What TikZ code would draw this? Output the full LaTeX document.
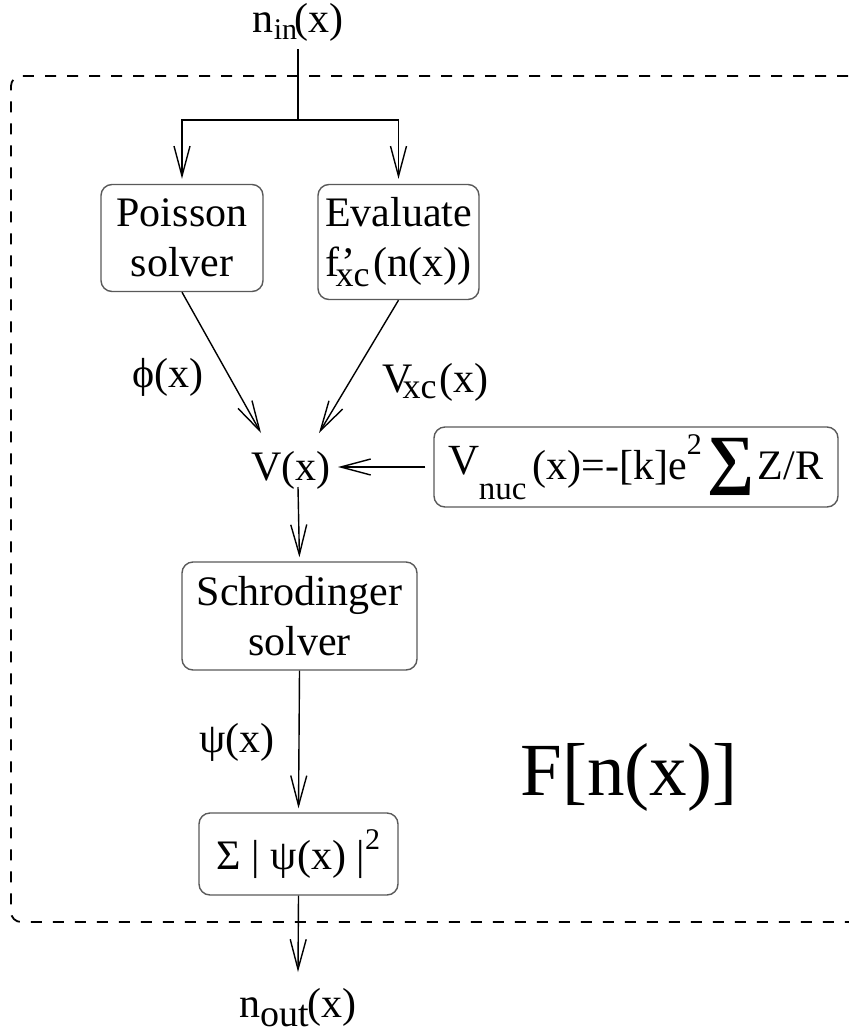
\documentclass[tikz,border=0pt]{standalone}
\usepackage{fontspec}
\setmainfont{Liberation Serif}
\usetikzlibrary{arrows.meta}
% \lowsub{drop}{size}{text}
\newcommand{\lowsub}[3]{\raisebox{-#1pt}{\fontsize{#2}{#2}\selectfont #3}}
\newcommand{\highsup}[3]{\raisebox{#1pt}{\fontsize{#2}{#2}\selectfont #3}}
\tikzset{
  every node/.style={font=\fontsize{42}{50}\selectfont, inner sep=0pt},
  procbox/.style={draw=black!65, line width=1.4pt, rounded corners=11pt, align=center},
  arr/.style={line width=1.4pt, -{Straight Barb[length=30pt,width=16pt,line width=1.4pt]}},
  plain/.style={line width=1.4pt},
  frame/.style={line width=1.8pt, dash pattern=on 11pt off 11pt, rounded corners=10pt}
}
\begin{document}
\begin{tikzpicture}[x=1pt,y=-1pt]
\useasboundingbox (0,0) rectangle (849,1034);
% frame
\draw[frame] (870,76) -- (11,76) -- (11,922) -- (870,922);
% input
\node[anchor=base] (nin) at (298,32) {n\lowsub{7}{30}{in}\kern-3pt(x)};
\coordinate (ninbot) at (298,49);
\coordinate (split) at (298,120);
% boxes
\node[procbox, minimum width=162pt, minimum height=107pt] (pois) at (182,238) {Poisson\\solver};
\node[procbox, minimum width=161pt, minimum height=115pt] (eval) at (398.5,242) {Evaluate\\f’\kern-20pt\lowsub{10}{36}{xc}\kern4pt(n(x))};
\node[anchor=base] (V) at (291,480) {V(x)};
\node[procbox, minimum width=404pt, minimum height=80pt] (vnuc) at (636,467) {\highsup{5}{43}{V}\kern-1pt\lowsub{20}{33}{nuc}\kern6pt(x)=-[k]e\highsup{25}{30}{2}\kern6pt\highsup{-2}{66}{\textbf{∑}}\kern3pt Z/R};
\node[procbox, minimum width=235pt, minimum height=108pt] (schr) at (299.5,616) {Schrodinger\\solver};
\node[procbox, minimum width=199pt, minimum height=82pt] (sig) at (298.5,854) {Σ | ψ(x) |\highsup{20}{30}{2}};
\node[anchor=base] (nout) at (298,1017) {n\lowsub{9}{38}{out}\kern-2pt(x)};
% labels
\node[anchor=base] (phil) at (168,387) {ϕ(x)};
\node[anchor=base west] (vxcl) at (382,392) {V\kern-10pt\lowsub{6}{36}{xc}\kern3pt(x)};
\node[anchor=base] (psil) at (237,752) {ψ(x)};
\node[anchor=base, font=\fontsize{75}{80}\selectfont] (F) at (629,795) {F[n(x)]};
% coordinates
\coordinate (tipL) at (261,433);
\coordinate (tipR) at (319,433);
\coordinate (tipV) at (338,467);
\coordinate (vbot) at (298,487);
\coordinate (outtip) at (298,972);
% connectors
\draw[plain] (ninbot) -- (split);
\draw[arr, shorten >=5pt] (split) -| (pois.north);
\draw[arr, shorten >=5pt] (split) -| (eval.north);
\draw[arr] (pois.south) -- (tipL);
\draw[arr] (eval.south) -- (tipR);
\draw[arr, shorten <=8pt] (vnuc.west) -- (tipV);
\draw[arr, shorten >=4pt] (vbot) -- (schr.north);
\draw[arr, shorten >=4pt] (schr.south) -- (sig.north);
\draw[arr] (sig.south) -- (outtip);
\end{tikzpicture}
\end{document}
